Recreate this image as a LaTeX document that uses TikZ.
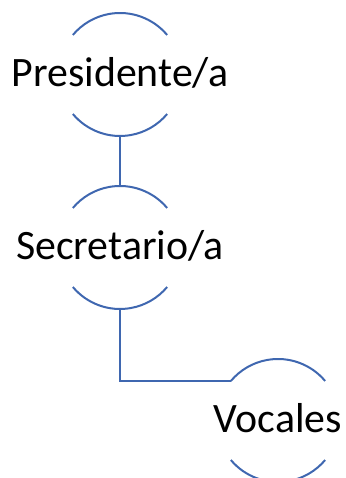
\documentclass[tikz,border=0pt]{standalone}
\usepackage{fontspec}
\setmainfont{Carlito}
\usepackage{xcolor}
\usepackage{tikz}
\usetikzlibrary{shapes,positioning,calc}
\definecolor{lineblue}{HTML}{3F67B0}

\begin{document}
\begin{tikzpicture}[x=1bp,y=1bp,
  unit/.style={circle, draw=none, inner sep=0pt, outer sep=0pt, minimum size=123bp},
  rim/.style={draw=lineblue, line width=2bp},
  lbl/.style={anchor=base, inner sep=0pt, font=\fontsize{42}{50}\selectfont}]
\useasboundingbox (0,0) rectangle (345,478);
% Presidente/a
\node[unit] (pres) at (120,403.5) {};
\node[lbl] (presTxt) at ([yshift=-12.5bp]pres.center) {Presidente/a};
\draw[rim] (pres.40) arc[start angle=40, end angle=140, radius=61.5bp];
\draw[rim] (pres.220) arc[start angle=220, end angle=320, radius=61.5bp];

% Secretario/a
\node[unit] (sec) at (120,230.5) {};
\node[lbl] (secTxt) at ([yshift=-12.5bp]sec.center) {Secretario/a};
\draw[rim] (sec.40) arc[start angle=40, end angle=140, radius=61.5bp];
\draw[rim] (sec.220) arc[start angle=220, end angle=320, radius=61.5bp];

% Vocales
\node[unit] (voc) at (278,57.5) {};
\node[lbl] (vocTxt) at ([yshift=-12.5bp]voc.center) {Vocales};
\draw[rim] (voc.40) arc[start angle=40, end angle=140, radius=61.5bp];
\draw[rim] (voc.220) arc[start angle=220, end angle=320, radius=61.5bp];

% Connectors
\draw[rim] (pres.south) -- (sec.north);
\draw[rim] (sec.south) |- (voc.140);
\end{tikzpicture}
\end{document}
